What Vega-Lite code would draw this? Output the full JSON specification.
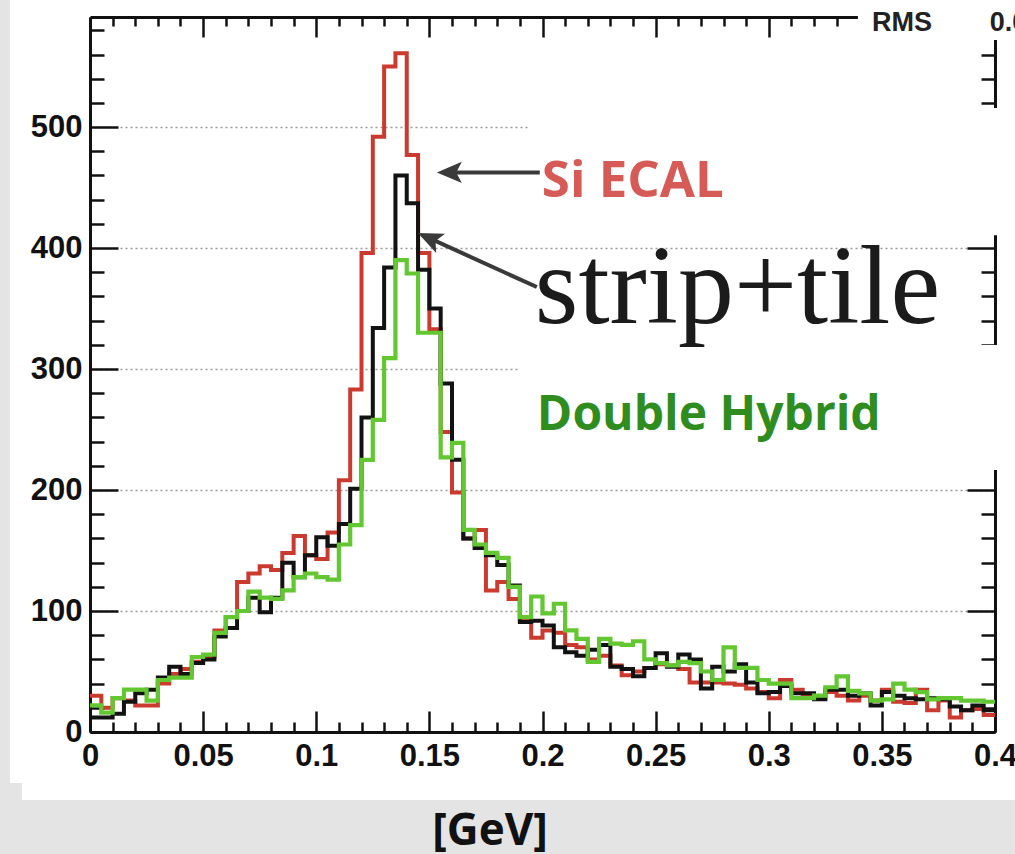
{
  "$schema": "https://vega.github.io/schema/vega-lite/v6.json",
  "width": 905,
  "height": 715,
  "autosize": "none",
  "padding": {"left": 90, "top": 17, "right": 20, "bottom": 122},
  "background": "white",
  "config": {"view": {"stroke": null}},
  "datasets": {
    "one": [{}],
    "hist": [
      {"x":0,"si":30,"st":12,"dh":22},
      {"x":0.005,"si":20,"st":12,"dh":16},
      {"x":0.01,"si":28,"st":15,"dh":28},
      {"x":0.015,"si":26,"st":25,"dh":35},
      {"x":0.02,"si":22,"st":32,"dh":35},
      {"x":0.025,"si":22,"st":35,"dh":26},
      {"x":0.03,"si":40,"st":45,"dh":43},
      {"x":0.035,"si":48,"st":54,"dh":45},
      {"x":0.04,"si":52,"st":48,"dh":45},
      {"x":0.045,"si":58,"st":57,"dh":62},
      {"x":0.05,"si":62,"st":60,"dh":64},
      {"x":0.055,"si":84,"st":79,"dh":82},
      {"x":0.06,"si":95,"st":86,"dh":95},
      {"x":0.065,"si":124,"st":100,"dh":100},
      {"x":0.07,"si":131,"st":111,"dh":116},
      {"x":0.075,"si":137,"st":99,"dh":111},
      {"x":0.08,"si":134,"st":111,"dh":110},
      {"x":0.085,"si":148,"st":140,"dh":117},
      {"x":0.09,"si":162,"st":128,"dh":128},
      {"x":0.095,"si":146,"st":146,"dh":131},
      {"x":0.1,"si":143,"st":161,"dh":128},
      {"x":0.105,"si":165,"st":154,"dh":126},
      {"x":0.11,"si":208,"st":172,"dh":155},
      {"x":0.115,"si":283,"st":201,"dh":171},
      {"x":0.12,"si":396,"st":260,"dh":225},
      {"x":0.125,"si":492,"st":334,"dh":258},
      {"x":0.13,"si":550,"st":384,"dh":309},
      {"x":0.135,"si":561,"st":460,"dh":390},
      {"x":0.14,"si":477,"st":437,"dh":379},
      {"x":0.145,"si":396,"st":382,"dh":330},
      {"x":0.15,"si":333,"st":350,"dh":330},
      {"x":0.155,"si":248,"st":288,"dh":227},
      {"x":0.16,"si":198,"st":225,"dh":239},
      {"x":0.165,"si":160,"st":160,"dh":167},
      {"x":0.17,"si":167,"st":152,"dh":155},
      {"x":0.175,"si":117,"st":146,"dh":148},
      {"x":0.18,"si":124,"st":138,"dh":144},
      {"x":0.185,"si":110,"st":121,"dh":120},
      {"x":0.19,"si":92,"st":91,"dh":95},
      {"x":0.195,"si":78,"st":92,"dh":112},
      {"x":0.2,"si":84,"st":88,"dh":98},
      {"x":0.205,"si":82,"st":70,"dh":106},
      {"x":0.21,"si":72,"st":66,"dh":84},
      {"x":0.215,"si":70,"st":63,"dh":77},
      {"x":0.22,"si":60,"st":68,"dh":58},
      {"x":0.225,"si":63,"st":72,"dh":77},
      {"x":0.23,"si":55,"st":54,"dh":73},
      {"x":0.235,"si":47,"st":52,"dh":72},
      {"x":0.24,"si":50,"st":46,"dh":75},
      {"x":0.245,"si":53,"st":53,"dh":60},
      {"x":0.25,"si":56,"st":65,"dh":57},
      {"x":0.255,"si":55,"st":54,"dh":55},
      {"x":0.26,"si":52,"st":64,"dh":58},
      {"x":0.265,"si":41,"st":60,"dh":57},
      {"x":0.27,"si":41,"st":36,"dh":50},
      {"x":0.275,"si":41,"st":54,"dh":43},
      {"x":0.28,"si":40,"st":50,"dh":70},
      {"x":0.285,"si":39,"st":56,"dh":53},
      {"x":0.29,"si":36,"st":41,"dh":53},
      {"x":0.295,"si":33,"st":32,"dh":43},
      {"x":0.3,"si":28,"st":33,"dh":40},
      {"x":0.305,"si":43,"st":38,"dh":40},
      {"x":0.31,"si":35,"st":32,"dh":28},
      {"x":0.315,"si":30,"st":32,"dh":28},
      {"x":0.32,"si":28,"st":27,"dh":30},
      {"x":0.325,"si":33,"st":35,"dh":37},
      {"x":0.33,"si":30,"st":35,"dh":46},
      {"x":0.335,"si":26,"st":30,"dh":34},
      {"x":0.34,"si":30,"st":32,"dh":32},
      {"x":0.345,"si":26,"st":22,"dh":26},
      {"x":0.35,"si":35,"st":33,"dh":27},
      {"x":0.355,"si":25,"st":30,"dh":40},
      {"x":0.36,"si":24,"st":28,"dh":35},
      {"x":0.365,"si":35,"st":27,"dh":33},
      {"x":0.37,"si":18,"st":28,"dh":27},
      {"x":0.375,"si":26,"st":27,"dh":28},
      {"x":0.38,"si":12,"st":21,"dh":28},
      {"x":0.385,"si":18,"st":18,"dh":26},
      {"x":0.39,"si":19,"st":22,"dh":26},
      {"x":0.395,"si":14,"st":18,"dh":25},
      {"x":0.4,"si":14,"st":18,"dh":25}
    ]
  },
  "layer": [
    {
      "data": {"name": "one"},
      "mark": {"type": "rect", "color": "#e4e4e4"},
      "encoding": {
        "x": {"datum": -0.0398, "scale": {"domain": [0, 0.4], "nice": false, "zero": false}, "axis": null},
        "x2": {"datum": 0.4088},
        "y": {"datum": -56.2, "scale": {"domain": [0, 591], "nice": false, "zero": false}, "axis": null},
        "y2": {"datum": -101}
      }
    },
    {
      "data": {"name": "one"},
      "mark": {"type": "rect", "color": "#e4e4e4"},
      "encoding": {
        "x": {"datum": -0.0398, "axis": null},
        "x2": {"datum": -0.0354},
        "y": {"datum": -101, "axis": null},
        "y2": {"datum": 606}
      }
    },
    {
      "data": {"name": "one"},
      "mark": {"type": "rect", "color": "#e4e4e4"},
      "encoding": {
        "x": {"datum": -0.0398, "axis": null},
        "x2": {"datum": -0.0301},
        "y": {"datum": -101, "axis": null},
        "y2": {"datum": -42.1}
      }
    },
    {
      "data": {"name": "hist"},
      "mark": {"type": "line", "interpolate": "step-after", "color": "#cb3a2e", "strokeWidth": 4},
      "encoding": {
        "x": {
          "field": "x", "type": "quantitative",
          "axis": {
            "orient": "bottom", "title": null, "grid": false,
            "values": [0,0.01,0.02,0.03,0.04,0.05,0.06,0.07,0.08,0.09,0.1,0.11,0.12,0.13,0.14,0.15,0.16,0.17,0.18,0.19,0.2,0.21,0.22,0.23,0.24,0.25,0.26,0.27,0.28,0.29,0.3,0.31,0.32,0.33,0.34,0.35,0.36,0.37,0.38,0.39,0.4],
            "format": "~g",
            "labelExpr": "abs(datum.value*20-round(datum.value*20))<1e-6 ? datum.label : ''",
            "tickSize": {"condition": {"test": "abs(datum.value*20-round(datum.value*20))<1e-6", "value": -21}, "value": -10},
            "tickWidth": 2.5, "tickColor": "#111111",
            "domainColor": "#111111", "domainWidth": 3,
            "labelFont": "Liberation Sans", "labelFontWeight": "bold", "labelFontSize": 31, "labelColor": "#111111",
            "labelPadding": 30, "labelOverlap": false, "labelFlush": false, "labelBound": false
          }
        },
        "y": {
          "field": "si", "type": "quantitative",
          "axis": {
            "orient": "left", "title": null, "grid": true,
            "values": [0,20,40,60,80,100,120,140,160,180,200,220,240,260,280,300,320,340,360,380,400,420,440,460,480,500,520,540,560,580],
            "labelExpr": "datum.value % 100 == 0 ? datum.label : ''",
            "tickSize": {"condition": {"test": "datum.value % 100 == 0", "value": -28}, "value": -14},
            "tickWidth": 2.5, "tickColor": "#111111",
            "domainColor": "#111111", "domainWidth": 3,
            "gridColor": "#9a9a9a", "gridDash": [2, 3], "gridWidth": 1.5,
            "gridOpacity": {"condition": {"test": "datum.value % 100 == 0 && datum.value > 0", "value": 1}, "value": 0},
            "labelFont": "Liberation Sans", "labelFontWeight": "bold", "labelFontSize": 31, "labelColor": "#111111",
            "labelPadding": 36, "labelOverlap": false, "labelFlush": false, "labelBound": false
          }
        }
      }
    },
    {
      "data": {"name": "hist"},
      "mark": {"type": "line", "interpolate": "step-after", "color": "#121212", "strokeWidth": 4},
      "encoding": {
        "x": {
          "field": "x", "type": "quantitative",
          "axis": {
            "orient": "top", "title": null, "grid": false, "labels": false,
            "values": [0,0.01,0.02,0.03,0.04,0.05,0.06,0.07,0.08,0.09,0.1,0.11,0.12,0.13,0.14,0.15,0.16,0.17,0.18,0.19,0.2,0.21,0.22,0.23,0.24,0.25,0.26,0.27,0.28,0.29,0.3,0.31,0.32,0.33,0.34,0.35,0.36,0.37,0.38,0.39,0.4],
            "tickSize": {"condition": {"test": "abs(datum.value*20-round(datum.value*20))<1e-6", "value": -20}, "value": -9},
            "tickWidth": 2.5, "tickColor": "#111111",
            "domainColor": "#111111", "domainWidth": 3
          }
        },
        "y": {
          "field": "st", "type": "quantitative",
          "axis": {
            "orient": "right", "title": null, "grid": false, "labels": false,
            "values": [0,20,40,60,80,100,120,140,160,180,200,220,240,260,280,300,320,340,360,380,400,420,440,460,480,500,520,540,560,580],
            "tickSize": {"condition": {"test": "datum.value % 100 == 0", "value": -28}, "value": -14},
            "tickWidth": 2.5, "tickColor": "#111111",
            "domainColor": "#111111", "domainWidth": 3
          }
        }
      }
    },
    {
      "data": {"name": "hist"},
      "mark": {"type": "line", "interpolate": "step-after", "color": "#62c730", "strokeWidth": 4.2},
      "encoding": {
        "x": {"field": "x", "type": "quantitative", "axis": null},
        "y": {"field": "dh", "type": "quantitative", "axis": null}
      }
    },
    {
      "data": {"name": "one"},
      "mark": {"type": "rect", "color": "white"},
      "encoding": {
        "x": {"datum": 0.1944, "axis": null},
        "x2": {"datum": 0.41},
        "y": {"datum": 410.7, "axis": null},
        "y2": {"datum": 515.7}
      }
    },
    {
      "data": {"name": "one"},
      "mark": {"type": "rect", "color": "white"},
      "encoding": {
        "x": {"datum": 0.19, "axis": null},
        "x2": {"datum": 0.41},
        "y": {"datum": 216.5, "axis": null},
        "y2": {"datum": 319.8}
      }
    },
    {
      "data": {"name": "one"},
      "mark": {"type": "rect", "color": "white"},
      "encoding": {
        "x": {"datum": 0.3394, "axis": null},
        "x2": {"datum": 0.41},
        "y": {"datum": 571.9, "axis": null},
        "y2": {"datum": 606}
      }
    },
    {
      "data": {"name": "one"},
      "mark": {"type": "rule", "color": "#3a3a3a", "strokeWidth": 4},
      "encoding": {
        "x": {"datum": 0.1988, "axis": null},
        "y": {"datum": 462.5, "axis": null},
        "x2": {"datum": 0.158},
        "y2": {"datum": 462.5}
      }
    },
    {
      "data": {"name": "one"},
      "mark": {"type": "rule", "color": "#3a3a3a", "strokeWidth": 4},
      "encoding": {
        "x": {"datum": 0.1975, "axis": null},
        "y": {"datum": 367.8, "axis": null},
        "x2": {"datum": 0.149},
        "y2": {"datum": 409}
      }
    },
    {
      "data": {"name": "one"},
      "mark": {"type": "point", "shape": "M0,0L2,-0.85L1.55,0L2,0.85Z", "size": 625, "filled": true, "opacity": 1, "color": "#3a3a3a", "angle": 0},
      "encoding": {
        "x": {"datum": 0.1533, "axis": null},
        "y": {"datum": 462.5, "axis": null}
      }
    },
    {
      "data": {"name": "one"},
      "mark": {"type": "point", "shape": "M0,0L2,-0.85L1.55,0L2,0.85Z", "size": 625, "filled": true, "opacity": 1, "color": "#3a3a3a", "angle": 24.4},
      "encoding": {
        "x": {"datum": 0.1449, "axis": null},
        "y": {"datum": 412.4, "axis": null}
      }
    },
    {
      "data": {"name": "one"},
      "mark": {"type": "text", "text": "Si ECAL", "font": "Open Sans", "fontWeight": "bold", "fontSize": 51, "color": "#d65a55", "align": "left", "baseline": "alphabetic"},
      "encoding": {
        "x": {"datum": 0.1997, "axis": null},
        "y": {"datum": 442.1, "axis": null}
      }
    },
    {
      "data": {"name": "one"},
      "mark": {"type": "text", "text": "strip+tile", "font": "Liberation Serif", "fontSize": 112, "color": "#1b1b1b", "align": "left", "baseline": "alphabetic"},
      "encoding": {
        "x": {"datum": 0.1966, "axis": null},
        "y": {"datum": 338.0, "axis": null}
      }
    },
    {
      "data": {"name": "one"},
      "mark": {"type": "text", "text": "Double Hybrid", "font": "Open Sans", "fontWeight": "bold", "fontSize": 48, "color": "#2f8c1e", "align": "left", "baseline": "alphabetic"},
      "encoding": {
        "x": {"datum": 0.1975, "axis": null},
        "y": {"datum": 249.6, "axis": null}
      }
    },
    {
      "data": {"name": "one"},
      "mark": {"type": "text", "text": "[GeV]", "font": "Open Sans", "fontWeight": "bold", "fontSize": 44, "color": "#111111", "align": "center", "baseline": "alphabetic"},
      "encoding": {
        "x": {"datum": 0.1768, "axis": null},
        "y": {"datum": -93.4, "axis": null}
      }
    },
    {
      "data": {"name": "one"},
      "mark": {"type": "text", "text": "RMS", "font": "Liberation Sans", "fontWeight": "bold", "fontSize": 27, "color": "#222222", "align": "left", "baseline": "alphabetic"},
      "encoding": {
        "x": {"datum": 0.3456, "axis": null},
        "y": {"datum": 579.3, "axis": null}
      }
    },
    {
      "data": {"name": "one"},
      "mark": {"type": "text", "text": "0.0", "font": "Liberation Sans", "fontWeight": "bold", "fontSize": 27, "color": "#222222", "align": "left", "baseline": "alphabetic"},
      "encoding": {
        "x": {"datum": 0.3977, "axis": null},
        "y": {"datum": 579.3, "axis": null}
      }
    }
  ]
}
